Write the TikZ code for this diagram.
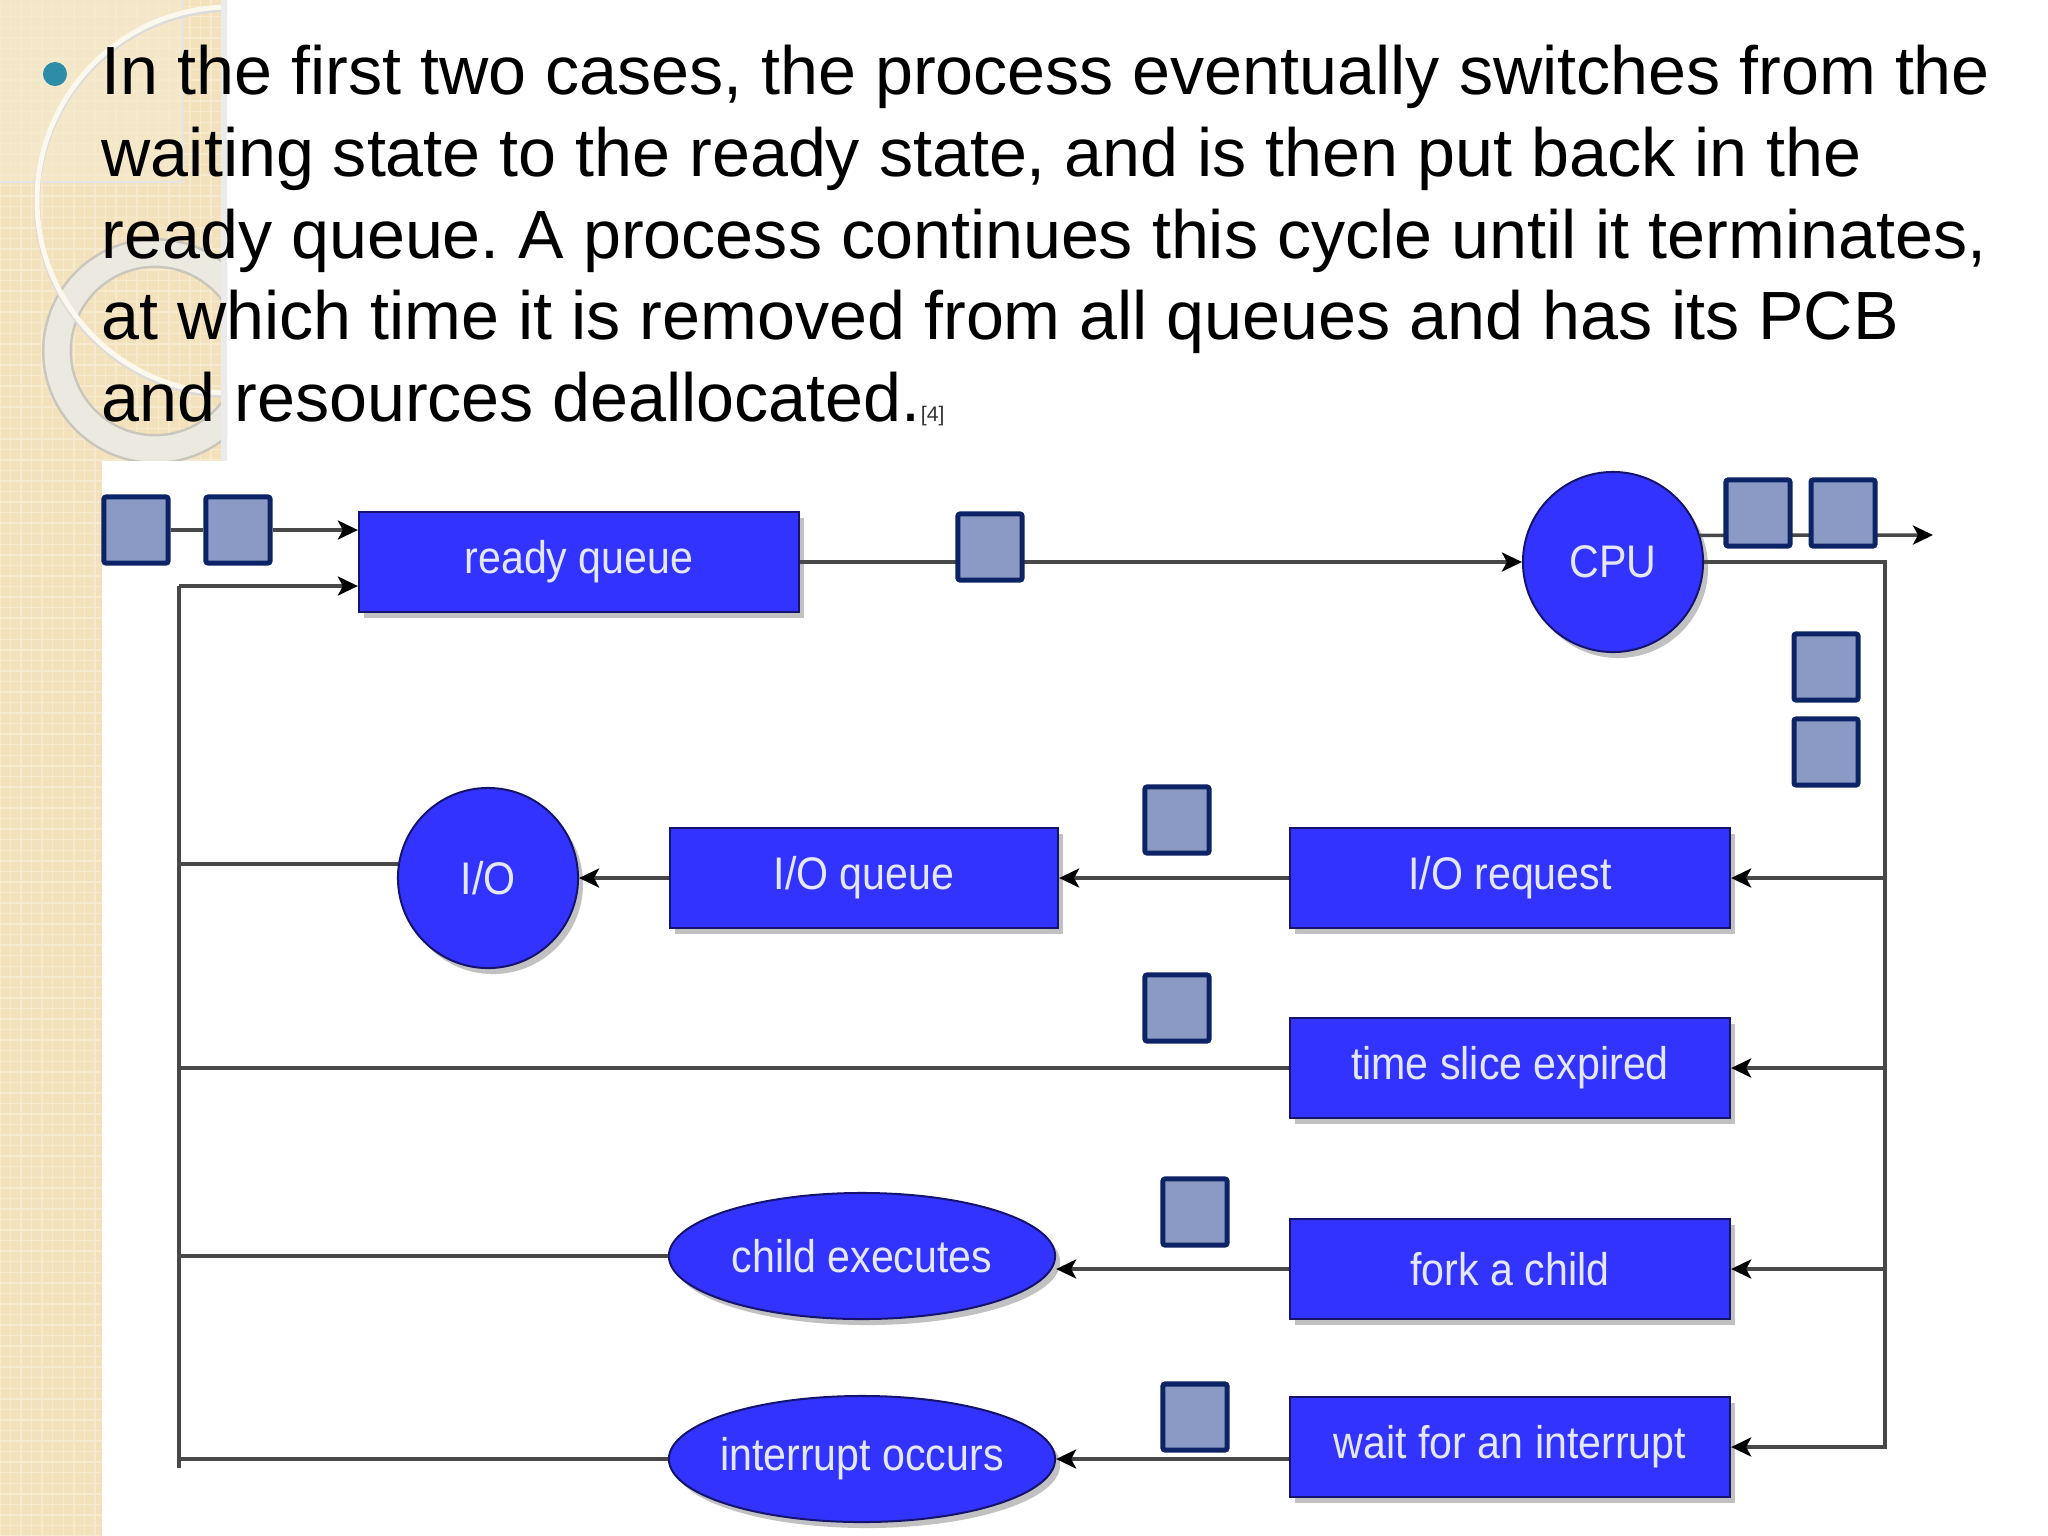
\documentclass[tikz,border=0pt]{standalone}
\usepackage{fontspec}
\setmainfont{Liberation Sans}
\newfontfamily\boxfont[FakeStretch=0.9]{Liberation Sans}
\usetikzlibrary{arrows.meta,shadows,patterns,shapes.geometric}
\definecolor{qblue}{RGB}{51,51,255}
\definecolor{qedge}{RGB}{20,20,110}
\definecolor{qtext}{RGB}{228,232,255}
\definecolor{pcbfill}{RGB}{138,154,196}
\definecolor{pcbedge}{RGB}{12,36,102}
\definecolor{wirecol}{RGB}{72,72,72}
\definecolor{sand}{RGB}{242,225,186}
\definecolor{sandlight}{RGB}{246,234,206}
\definecolor{ringwhite}{RGB}{252,248,237}
\definecolor{ringgrey}{RGB}{236,233,224}
\definecolor{dotcol}{RGB}{45,140,168}
\frenchspacing

\begin{document}
\begin{tikzpicture}[x=0.01cm, y=-0.01cm,
		qbox/.style={rectangle, fill=qblue, draw=qedge, line width=0.02cm, text=qtext,
			font=\boxfont\fontsize{13}{15}\selectfont, minimum width=4.4cm, minimum height=1.0cm, inner sep=0pt,
			drop shadow={shadow xshift=0.05cm, shadow yshift=-0.06cm, fill=black!40, opacity=0.6}},
		qcircle/.style={qbox, circle, minimum width=1.8cm, minimum height=1.8cm},
		qoval/.style={qbox, ellipse, inner xsep=-0.4cm, minimum width=3.86cm, minimum height=1.26cm},
		pcb/.style={rectangle, fill=pcbfill, draw=pcbedge, line width=0.05cm, rounded corners=0.02cm,
			minimum width=0.64cm, minimum height=0.66cm, inner sep=0pt},
		wire/.style={draw=wirecol, line width=0.035cm},
		feed/.style={wire, -{Stealth[length=0.2cm, width=0.19cm, inset=0.05cm, color=black]}}]
			%%%%% START %%%%%
			\useasboundingbox (0,0) rectangle (2048,1536);
			\fill[white] (0,0) rectangle (2048,1536);
			
			% slide border
			\fill[sand] (0,0) rectangle (227,460);
			\fill[sand] (0,460) rectangle (102,1536);
			\fill[pattern=grid, pattern color=sandlight] (0,0) rectangle (227,460);
			\fill[pattern=grid, pattern color=sandlight] (0,460) rectangle (102,1536);
			\begin{scope}
				\clip (0,0) rectangle (227,460);
				\fill[sandlight, opacity=0.7] (0,0) rectangle (183,182);
				\draw[black!10, line width=0.02cm] (0,182) -- (183,182) -- (183,0);
				\draw[ringgrey!85!black, line width=0.30cm] (155,351) circle (98);
				\draw[ringgrey, line width=0.25cm] (155,351) circle (98);
				\draw[black!14, line width=0.06cm] (230,202) circle (193);
				\draw[ringwhite, line width=0.05cm] (230,200) circle (193);
				\fill[black!8] (221,0) rectangle (227,460);
			\end{scope}
			
			% text
			\node[circle, fill=dotcol, minimum size=0.24cm, inner sep=0pt] (dot) at (55,74) {};
			\node[anchor=north west, inner sep=0pt, align=left, font=\fontsize{19.4}{23.3}\selectfont] (para) at (101,44)
				{In the first two cases, the process eventually switches from the\\
				waiting state to the ready state, and is then put back in the\\
				ready queue. A process continues this cycle until it terminates,\\
				at which time it is removed from all queues and has its PCB\\
				and resources deallocated.{\fontsize{6}{7}\selectfont\color{black!80}[4]}};
			
			% queues and devices
			\node[qbox] (ready) at (579,562) {ready queue};
			\node[qcircle] (cpu) at (1613,562) {CPU};
			\node[qbox] (ioreq) at (1510,878) {I/O request};
			\node[qbox, minimum width=3.88cm] (ioq) at (864,878) {I/O queue};
			\node[qcircle] (io) at (488,878) {I/O};
			\node[qbox] (slice) at (1510,1068) {time slice expired};
			\node[qbox] (fork) at (1510,1269) {fork a child};
			\node[qoval] (child) at (862,1256) {child executes};
			\node[qbox] (wait) at (1510,1447) {wait for an interrupt};
			\node[qoval] (intr) at (862,1459) {interrupt occurs};
			
			\coordinate (lt) at (179,586);
			\coordinate (lb) at (179,1468);
			\coordinate (rt) at (1885,562);
			\coordinate (rb) at (1885,1449);
			\coordinate (exit) at (1933,535);
			
			% flow
			\draw[wire] (lt) -- (lb);
			\draw[feed] (lt) -- (lt -| ready.west);
			\draw[feed] (ready.east) -- (cpu.west);
			\draw[feed] (cpu.17) -- (exit);
			\draw[wire] (cpu.east) -- (rt) -- (rb);
			\draw[feed] (ioreq.east -| rt) -- (ioreq.east);
			\draw[feed] (slice.east -| rt) -- (slice.east);
			\draw[feed] (fork.east -| rt) -- (fork.east);
			\draw[feed] (wait.east -| rt) -- (wait.east);
			\draw[feed] (ioreq.west) -- (ioq.east);
			\draw[feed] (ioq.west) -- (io.east);
			\draw[wire] (io.171) -- (io.171 -| lt);
			\draw[wire] (slice.west) -- (slice.west -| lt);
			\draw[feed] (fork.west) -- (fork.west -| child.east);
			\draw[wire] (child.west) -- (child.west -| lt);
			\draw[feed] (wait.west |- intr) -- (intr.east);
			\draw[wire] (intr.west) -- (intr.west -| lt);
			
			% processes
			\node[pcb] (pcbA) at (136,530) {};
			\node[pcb] (pcbB) at (238,530) {};
			\draw[wire] (pcbA.east) -- (pcbB.west);
			\draw[feed] (pcbB.east) -- (pcbB.east -| ready.west);
			\node[pcb] (pcbC) at (990,547) {};
			\node[pcb] (pcbD) at (1758,513) {};
			\node[pcb] (pcbE) at (1843,513) {};
			\node[pcb] (pcbF) at (1826,667) {};
			\node[pcb] (pcbG) at (1826,752) {};
			\node[pcb] (pcbH) at (1177,820) {};
			\node[pcb] (pcbI) at (1177,1008) {};
			\node[pcb] (pcbJ) at (1195,1212) {};
			\node[pcb] (pcbK) at (1195,1417) {};
			
			%%%%% END %%%%%
\end{tikzpicture}
\end{document}
